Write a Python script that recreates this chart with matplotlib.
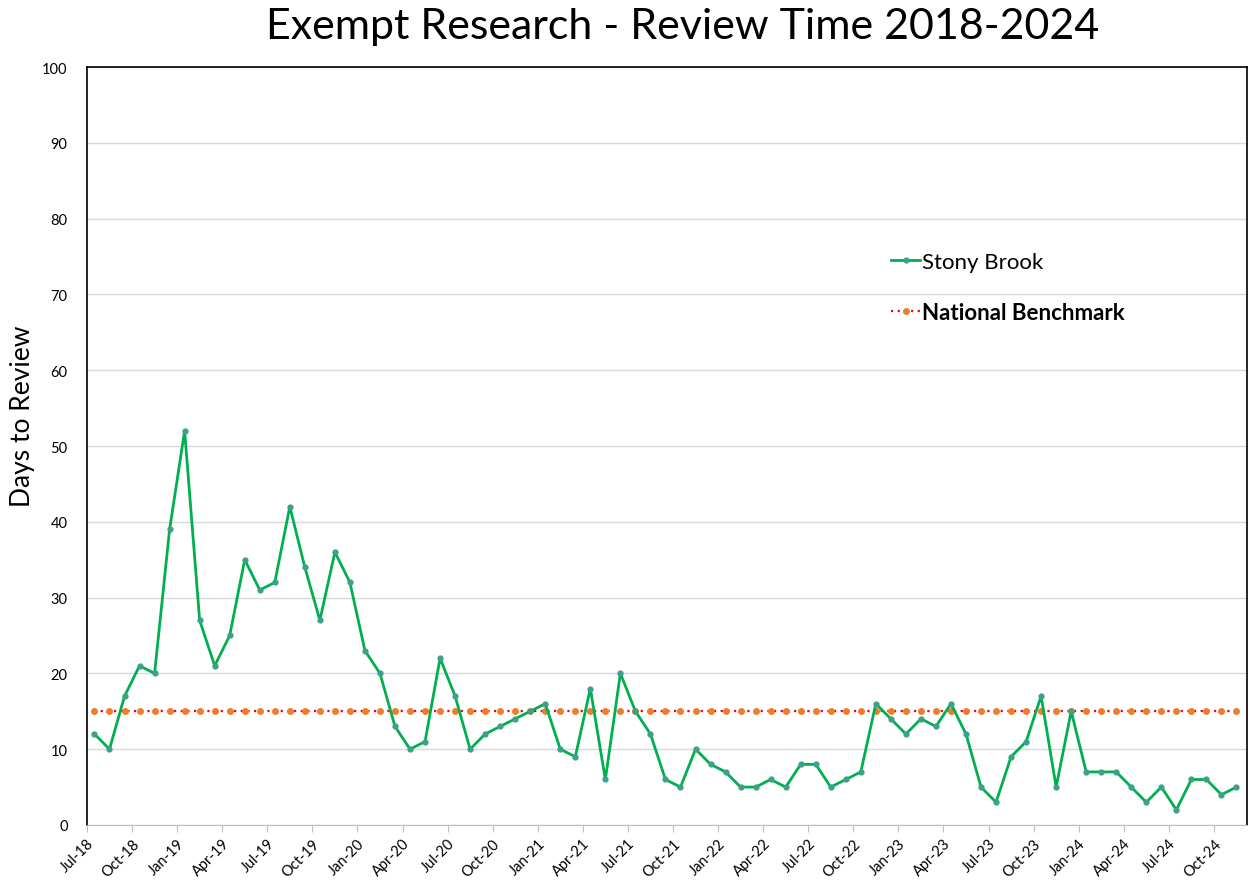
import matplotlib
matplotlib.use("Agg")
import matplotlib.pyplot as plt
import numpy as np

# monthly review time, Jul-18 .. Nov-24
months = []
for year in range(2018, 2025):
    for m in ['Jan', 'Feb', 'Mar', 'Apr', 'May', 'Jun', 'Jul', 'Aug', 'Sep', 'Oct', 'Nov', 'Dec']:
        months.append(f"{m}-{str(year)[2:]}")
months = months[6:-1]

stony_brook = [
    12, 10, 17, 21, 20, 39,
    52, 27, 21, 25, 35, 31, 32, 42, 34, 27, 36, 32,
    23, 20, 13, 10, 11, 22, 17, 10, 12, 13, 14, 15,
    16, 10, 9, 18, 6, 20, 15, 12, 6, 5, 10, 8,
    7, 5, 5, 6, 5, 8, 8, 5, 6, 7, 16, 14,
    12, 14, 13, 16, 12, 5, 3, 9, 11, 17, 5, 15,
    7, 7, 7, 5, 3, 5, 2, 6, 6, 4, 5,
]
benchmark = [15] * len(months)

plt.rcParams['font.family'] = ['Lato', 'DejaVu Sans']

fig = plt.figure(figsize=(12.53, 8.87), dpi=100)
ax = fig.add_axes([0.0694, 0.0688, 0.9258, 0.8545])

x = np.arange(len(months))
ax.plot(x, benchmark, color='#FF0000', linestyle=(0, (1, 2)), linewidth=1.6,
        marker='o', markersize=4, markerfacecolor='#ED7D31', markeredgecolor='#ED7D31',
        label='National Benchmark', zorder=2)
ax.plot(x, stony_brook, color='#00B050', linewidth=2, marker='o', markersize=3.5,
        markerfacecolor='#3FA08A', markeredgecolor='#3FA08A', label='Stony Brook', zorder=3)

ax.set_xlim(-0.5, len(months) - 0.3)
ax.set_ylim(0, 100)
ax.set_yticks(range(0, 101, 10))
ax.grid(axis='y', color='#D9D9D9', linewidth=1)
ax.set_axisbelow(True)

tick_pos = x[::3] - 0.5
ax.set_xticks(tick_pos)
ax.set_xticklabels(months[::3], rotation=45, ha='right', rotation_mode='anchor', fontsize=10.5)
ax.tick_params(axis='x', length=5, color='#BFBFBF', pad=3)
ax.tick_params(axis='y', length=0, labelsize=10.5, pad=14)

for side in ['left', 'top', 'right']:
    ax.spines[side].set_color('black')
    ax.spines[side].set_linewidth(1.2)
ax.spines['bottom'].set_color('#BFBFBF')

ax.set_ylabel('Days to Review', fontsize=19)
ax.yaxis.set_label_coords(-0.045, 0.54)
fig.text(0.545, 0.97, 'Exempt Research - Review Time 2018-2024', fontsize=31,
         ha='center', va='center')

handles, labels = ax.get_legend_handles_labels()
leg = ax.legend(handles[::-1], labels[::-1], loc='upper left',
                bbox_to_anchor=(0.676, 0.782), frameon=False, fontsize=16,
                labelspacing=1.35, handlelength=1.3, handletextpad=0.1)
leg.get_texts()[1].set_fontweight('bold')

fig.savefig('out.png', dpi=100)
